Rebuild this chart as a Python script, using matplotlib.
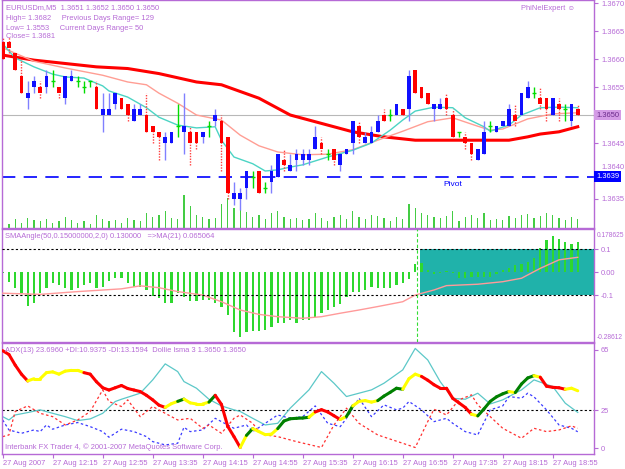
import matplotlib
matplotlib.use("Agg")
import matplotlib.pyplot as plt
import numpy as np
from matplotlib.collections import LineCollection
from matplotlib.transforms import blended_transform_factory

plt.rcParams['font.family'] = ['Liberation Sans', 'DejaVu Sans']

# ---- price data (EURUSDm, M5), bars 0..92 ----
opens = [1.3663, 1.3663, 1.3661, 1.3657, 1.3653, 1.3655, 1.3655, 1.3655, 1.3656, 1.3655,
         1.3653, 1.3656, 1.3656, 1.3655, 1.3656, 1.3655, 1.3650, 1.3650, 1.3652, 1.3653,
         1.3652, 1.3649, 1.3650, 1.3650, 1.3648, 1.3647, 1.3645, 1.3645, 1.3648, 1.3647,
         1.3647, 1.3647, 1.3646, 1.3648, 1.3649, 1.3649, 1.3646, 1.3635, 1.3635, 1.3637,
         1.3639, 1.3640, 1.3637, 1.3638, 1.3639, 1.3642, 1.3640, 1.3642, 1.3642, 1.3642,
         1.3644, 1.3645, 1.3643, 1.3644, 1.3641, 1.3643, 1.3645, 1.3648, 1.3645, 1.3645,
         1.3647, 1.3650, 1.3650, 1.3650, 1.3651, 1.3651, 1.3658, 1.3655, 1.3654, 1.3651,
         1.3651, 1.3653, 1.3650, 1.3647, 1.3646, 1.3645, 1.3642, 1.3643, 1.3648, 1.3647,
         1.3648, 1.3648, 1.3650, 1.3650, 1.3653, 1.3654, 1.3653, 1.3653, 1.3650, 1.3652,
         1.3651, 1.3649, 1.3651]
highs = [1.3664, 1.3664, 1.3661, 1.3660, 1.3656, 1.3657, 1.3656, 1.3658, 1.3658, 1.3655,
         1.3657, 1.3658, 1.3657, 1.3656, 1.3656, 1.3656, 1.3654, 1.3654, 1.3654, 1.3653,
         1.3652, 1.3652, 1.3652, 1.3654, 1.3648, 1.3647, 1.3647, 1.3647, 1.3652, 1.3654,
         1.3648, 1.3647, 1.3647, 1.3649, 1.3651, 1.3650, 1.3646, 1.3638, 1.3637, 1.3640,
         1.3640, 1.3640, 1.3638, 1.3641, 1.3643, 1.3644, 1.3643, 1.3644, 1.3644, 1.3644,
         1.3648, 1.3646, 1.3644, 1.3644, 1.3643, 1.3644, 1.3649, 1.3649, 1.3647, 1.3648,
         1.3650, 1.3651, 1.3651, 1.3652, 1.3651, 1.3658, 1.3658, 1.3655, 1.3654, 1.3652,
         1.3653, 1.3654, 1.3651, 1.3647, 1.3647, 1.3645, 1.3644, 1.3649, 1.3649, 1.3648,
         1.3649, 1.3652, 1.3652, 1.3654, 1.3656, 1.3655, 1.3655, 1.3653, 1.3653, 1.3653,
         1.3652, 1.3652, 1.3652]
lows = [1.3660, 1.3661, 1.3658, 1.3654, 1.3651, 1.3654, 1.3653, 1.3654, 1.3655, 1.3653,
        1.3652, 1.3656, 1.3655, 1.3654, 1.3655, 1.3651, 1.3647, 1.3650, 1.3651, 1.3651,
        1.3649, 1.3649, 1.3650, 1.3647, 1.3645, 1.3642, 1.3642, 1.3645, 1.3646, 1.3643,
        1.3641, 1.3644, 1.3645, 1.3646, 1.3648, 1.3640, 1.3635, 1.3634, 1.3633, 1.3635,
        1.3637, 1.3636, 1.3636, 1.3636, 1.3639, 1.3640, 1.3640, 1.3640, 1.3641, 1.3641,
        1.3644, 1.3643, 1.3642, 1.3641, 1.3640, 1.3643, 1.3643, 1.3645, 1.3645, 1.3645,
        1.3647, 1.3649, 1.3649, 1.3650, 1.3650, 1.3649, 1.3654, 1.3653, 1.3652, 1.3649,
        1.3651, 1.3650, 1.3646, 1.3646, 1.3644, 1.3642, 1.3642, 1.3643, 1.3647, 1.3647,
        1.3648, 1.3648, 1.3648, 1.3650, 1.3653, 1.3653, 1.3651, 1.3649, 1.3650, 1.3649,
        1.3649, 1.3648, 1.3650]
closes = [1.3660, 1.3662, 1.3658, 1.3654, 1.3654, 1.3656, 1.3654, 1.3657, 1.3656, 1.3654,
          1.3657, 1.3657, 1.3656, 1.3655, 1.3656, 1.3651, 1.3651, 1.3651, 1.3654, 1.3651,
          1.3650, 1.3651, 1.3651, 1.3647, 1.3647, 1.3646, 1.3646, 1.3647, 1.3648, 1.3648,
          1.3645, 1.3645, 1.3647, 1.3648, 1.3650, 1.3645, 1.3636, 1.3636, 1.3636, 1.3640,
          1.3639, 1.3636, 1.3637, 1.3640, 1.3643, 1.3641, 1.3641, 1.3643, 1.3643, 1.3643,
          1.3646, 1.3644, 1.3643, 1.3642, 1.3643, 1.3644, 1.3649, 1.3646, 1.3646, 1.3647,
          1.3649, 1.3649, 1.3650, 1.3652, 1.3650, 1.3657, 1.3654, 1.3653, 1.3652, 1.3652,
          1.3652, 1.3651, 1.3646, 1.3647, 1.3645, 1.3643, 1.3644, 1.3647, 1.3648, 1.3648,
          1.3649, 1.3651, 1.3649, 1.3654, 1.3655, 1.3654, 1.3652, 1.3651, 1.3653, 1.3651,
          1.3651, 1.3652, 1.3650]
volumes = [6, 4, 8, 5, 9, 7, 6, 8, 5, 6, 10, 7, 5, 6, 4, 12,
           8, 6, 7, 5, 9, 7, 6, 14, 10, 12, 16, 9, 8, 30, 20, 12,
           10, 8, 9, 22, 28, 18, 20, 15, 10, 12, 8, 14, 16, 10, 8, 9,
           7, 8, 14, 9, 6, 10, 12, 8, 16, 10, 8, 12, 11, 9, 6, 10,
           8, 22, 18, 14, 12, 10, 9, 11, 16, 6, 10, 12, 9, 14, 7, 8,
           7, 11, 9, 12, 13, 9, 11, 14, 12, 9, 7, 10, 8]

# moving averages on the price chart (read at sample bars)
slow_idx = [0, 5, 15, 20, 25, 31, 35, 41, 46, 50, 56, 61, 66, 76, 81, 84, 86, 89, 92]
slow_ma = [1.36607, 1.36598, 1.36586, 1.36583, 1.36574, 1.36559, 1.36554, 1.36530, 1.36500,
           1.36488, 1.36470, 1.36461, 1.36455, 1.36455, 1.36455, 1.36461, 1.36466, 1.36470, 1.36479]
mid_idx = [0, 5, 10, 16, 20, 23, 25, 28, 31, 35, 38, 41, 44, 48, 52, 56, 60, 64, 68, 72,
           76, 78, 80, 84, 88, 92]
mid_ma = [1.36620, 1.36596, 1.36584, 1.36571, 1.36559, 1.36554, 1.36539, 1.36521, 1.36500,
          1.36491, 1.36464, 1.36445, 1.36434, 1.36429, 1.36430, 1.36438, 1.36455, 1.36471,
          1.36488, 1.36495, 1.36480, 1.36473, 1.36475, 1.36493, 1.36502, 1.36504]
fast_idx = [0, 2, 5, 8, 10, 13, 16, 17, 20, 23, 25, 28, 31, 34, 35, 37, 40, 42, 44, 46, 48,
            52, 56, 59, 62, 64, 66, 69, 72, 74, 77, 78, 81, 83, 86, 89, 92]
fast_ma = [1.36627, 1.36602, 1.36586, 1.36573, 1.36568, 1.36566, 1.36552, 1.36543, 1.36532,
           1.36513, 1.36496, 1.36482, 1.36477, 1.36479, 1.36455, 1.36425, 1.36413, 1.36400,
           1.36402, 1.36407, 1.36411, 1.36425, 1.36437, 1.36450, 1.36473, 1.36491, 1.36507,
           1.36514, 1.36513, 1.36495, 1.36479, 1.36471, 1.36482, 1.36500, 1.36513, 1.36514, 1.36513]
pivot = 1.3639
price_ticks = [1.3635, 1.3640, 1.3645, 1.3655, 1.3660, 1.3665, 1.3670]

# ---- SMAAngle sub-window ----
angle = [-0.005, -0.043, -0.07, -0.091, -0.146, -0.135, -0.091, -0.067, -0.048, -0.055,
         -0.07, -0.077, -0.07, -0.055, -0.048, -0.07, -0.062, -0.04, -0.026, -0.023,
         -0.048, -0.062, -0.062, -0.077, -0.103, -0.113, -0.135, -0.132, -0.091, -0.106,
         -0.125, -0.125, -0.12, -0.12, -0.135, -0.149, -0.186, -0.261, -0.28, -0.261,
         -0.255, -0.255, -0.251, -0.236, -0.222, -0.222, -0.207, -0.222, -0.207, -0.207,
         -0.193, -0.178, -0.164, -0.149, -0.139, -0.106, -0.084, -0.084, -0.077, -0.062,
         -0.07, -0.07, -0.07, -0.055, -0.048, -0.029, 0.035, 0.039, 0.01, -0.007,
         -0.002, 0.006, -0.004, -0.026, -0.026, -0.019, -0.019, -0.019, -0.019, -0.009,
         0.01, 0.02, 0.032, 0.035, 0.046, 0.061, 0.107, 0.141, 0.159, 0.145,
         0.133, 0.123, 0.13]
ma21_idx = [0, 6, 12, 19, 22, 25, 28, 32, 35, 38, 41, 44, 48, 51, 54, 57, 60, 64, 66, 69,
            71, 76, 80, 83, 86, 89, 92]
ma21 = [-0.091, -0.096, -0.084, -0.072, -0.059, -0.067, -0.084, -0.099, -0.128, -0.164,
        -0.183, -0.193, -0.2, -0.193, -0.178, -0.164, -0.149, -0.128, -0.099, -0.077,
        -0.058, -0.052, -0.041, -0.026, 0.017, 0.054, 0.065]
angle_levels = [0.1, -0.1]
box_start = 66.8
sep_bar = 66.3

# ---- ADX sub-window ----
dollie = [64.5, 62, 55, 49, 44.5, 46, 46, 50, 50.5, 49, 51, 51.5, 51.5, 50, 49, 44, 40, 38.5,
          40, 41.5, 39.5, 38.5, 37.5, 35, 32, 28.5, 27, 29.5, 31, 32.5, 30, 29.3, 29.3, 30.5,
          35, 29, 14.5, 7.7, 0.5, 8.5, 13, 11, 9, 9.3, 13, 18, 19.5, 19.8, 20, 20.5, 24, 25.5,
          24, 21.5, 19, 21, 28, 31, 31.5, 30.5, 31.5, 34.5, 37, 39.7, 39, 46, 49, 47.5, 45, 42,
          39.7, 39.7, 33, 30, 27, 22.5, 21.4, 26, 31, 34, 36, 37.5, 36.8, 42.5, 46.5, 48, 47,
          41, 40.3, 40, 39, 39.7, 38]
dollie_col = ("-rrrr" + "y" * 9 + "r" * 13 + "yy" + "g" + "yyyy" + "g" + "rrrr" + "y" + "g"
              + "yyyy" + "ggggg" + "y" + "rrrr" + "y" + "g" + "yyyy" + "gggg" + "yyy"
              + "r" * 8 + "y" + "ggggg" + "y" + "ggg" + "y" + "rrrr" + "yy")
adx_idx = [0, 1, 2, 4, 6, 8, 10, 12, 14, 16, 18, 19, 22, 24, 26, 28, 29, 31, 33, 35, 37, 38,
           40, 42, 44, 46, 49, 51, 53, 55, 57, 59, 61, 64, 66, 68, 70, 72, 74, 76, 78, 80, 83,
           85, 88, 90, 92]
adx = [20.9, 18.7, 22, 23.6, 25.4, 23.1, 20.9, 18.3, 19.4, 23.1, 30.9, 32.4, 36.4, 45.2, 55.8,
       50.7, 44.1, 39.7, 32.4, 28, 25.4, 24.3, 19.8, 15.4, 16.5, 26.5, 38.6, 50.7, 43, 34.2,
       36.4, 38.6, 43, 51.8, 66, 58.4, 44, 33, 32.4, 36.4, 29.3, 32, 38.6, 45.2, 40.8, 29.8, 23.7]
pdi_idx = [0, 1, 3, 5, 6, 7, 8, 10, 12, 14, 16, 17, 19, 21, 23, 24, 26, 28, 29, 30, 32, 34,
           35, 37, 39, 40, 42, 44, 46, 48, 50, 52, 54, 55, 57, 59, 61, 63, 64, 65, 67, 69, 71,
           72, 74, 76, 78, 80, 81, 83, 84, 85, 87, 89, 91, 92]
pdi = [18.7, 12.1, 9.9, 12.1, 11, 15.4, 12.6, 15.4, 17, 14.3, 11, 7.3, 12.6, 11, 7.7, 4.4, 2.2,
       3.3, 13.9, 11, 12.1, 19.8, 17.6, 13.2, 15.4, 11, 16.5, 22, 19.8, 20.9, 28, 16.5, 14.3,
       19.8, 33.1, 20.9, 28.7, 25.4, 26.5, 30.9, 25.4, 17.6, 19.8, 16.5, 11, 8.8, 25.4, 28,
       34.2, 33.1, 36.4, 34, 25.4, 15.4, 13.2, 10.9]
mdi_idx = [0, 1, 2, 4, 6, 8, 10, 12, 14, 16, 17, 19, 20, 22, 24, 26, 28, 30, 32, 33, 35, 37,
           38, 40, 41, 42, 44, 47, 51, 53, 55, 57, 60, 64, 66, 68, 69, 71, 73, 75, 76, 78, 80,
           83, 85, 87, 89, 91, 92]
mdi = [7.7, 8.8, 24.3, 28, 23.1, 20.9, 15.4, 18.7, 24.3, 38.6, 30.9, 27.6, 32, 20.9, 27.6,
       23.1, 18.7, 19.8, 13.2, 15.4, 9.9, 19.8, 22, 16.5, 11, 8.8, 7.7, 4.4, 0.5, 15.4, 26.5,
       16.5, 8.8, 3.3, 0.5, 17.6, 25.8, 22, 32, 35.3, 28.7, 20.9, 13.2, 6.6, 13.2, 11, 12.1,
       14.8, 13.2]

time_labels = ["27 Aug 2007", "27 Aug 12:15", "27 Aug 12:55", "27 Aug 13:35", "27 Aug 14:15",
               "27 Aug 14:55", "27 Aug 15:35", "27 Aug 16:15", "27 Aug 16:55", "27 Aug 17:35",
               "27 Aug 18:15", "27 Aug 18:55"]

W, H = 625, 469
VIOLET = '#b66ad6'
TXT = 5.4

fig = plt.figure(figsize=(W / 100, H / 100), dpi=100)
fig.patch.set_facecolor('white')


def panel(top, bottom, left=2, right=594):
    return fig.add_axes([left / W, 1 - bottom / H, (right - left) / W, (bottom - top) / H])


def ftext(x, y, s, **kw):
    kw.setdefault('color', VIOLET)
    kw.setdefault('fontsize', TXT)
    fig.text(x / W, 1 - y / H, s, va='center', ha='left', **kw)


ax = panel(0, 228)
ax1 = panel(229, 342)
ax2 = panel(343, 454)
xlim = (-0.11, 94.6)
bars = np.arange(len(opens))

# volume shares the price window, drawn underneath
axv = ax.twinx()
axv.bar(bars, volumes, width=0.22, color='#44cc44', zorder=1)
axv.set_ylim(0, max(volumes) * 7.0)
axv.set_xlim(*xlim)
axv.axis('off')
ax.set_zorder(axv.get_zorder() + 1)
ax.patch.set_visible(False)

for a in (ax, ax1, ax2):
    a.set_xlim(*xlim)
    for s in a.spines.values():
        s.set_color(VIOLET)
        s.set_linewidth(1)
    a.yaxis.tick_right()
    a.tick_params(axis='y', colors=VIOLET, labelsize=TXT, length=3, width=0.8, pad=2)
    a.tick_params(axis='x', bottom=False, labelbottom=False)

# ---- main price chart ----
o, hi, lo, c = (np.array(v) for v in (opens, highs, lows, closes))
up, dn, dj = c > o, c < o, c == o

ax.set_ylim(1.362982, 1.367054)
ax.axhline(closes[-1], color='#b8b8b8', lw=0.8, zorder=1)
ax.axhline(pivot, color='#0000ff', lw=1.2, ls=(0, (8, 5)), zorder=1)
ax.plot(slow_idx, slow_ma, color='#ff0000', lw=2.2, zorder=2)
ax.plot(mid_idx, mid_ma, color='#ff9e94', lw=1, zorder=2)
ax.plot(fast_idx, fast_ma, color='#4cd4c4', lw=1, zorder=2)

ax.vlines(bars[up], lo[up], hi[up], color='#8080ff', lw=1, zorder=3)
ax.vlines(bars[dn], lo[dn], hi[dn], color='#ff4040', lw=1, linestyles=(0, (1, 1)), zorder=3)
ax.vlines(bars[dj], lo[dj], hi[dj], color='#00dd00', lw=1, zorder=3)
ax.bar(bars[up], c[up] - o[up], bottom=o[up], width=0.62, color='#1010ff', zorder=4)
ax.bar(bars[dn], o[dn] - c[dn], bottom=c[dn], width=0.62, color='#ff0000', zorder=4)
ax.hlines(c[dj], bars[dj] - 0.32, bars[dj] + 0.32, color='#00dd00', lw=1, zorder=4)

ax.text(72, pivot - 0.00015, 'Pivot', color='#0000ff', fontsize=TXT + 0.6, ha='center', va='center')
ax.set_yticks(price_ticks)
ax.set_yticklabels([f'{v:.4f}' for v in price_ticks])
# the 1.3640 label sits just above the pivot box
ax.get_yticklabels()[1].set_va('bottom')
tr = blended_transform_factory(ax.transAxes, ax.transData)
ax.text(1.004, closes[-1], f'{closes[-1]:.4f}', transform=tr, fontsize=TXT, color='#6a2a8a',
        va='center', ha='left', zorder=10,
        bbox=dict(boxstyle='square,pad=0.25', fc='#d49be6', ec='none'))
ax.text(1.004, pivot, f'{pivot:.4f}', transform=tr, fontsize=TXT, color='white',
        va='center', ha='left', zorder=10,
        bbox=dict(boxstyle='square,pad=0.25', fc='#0000ff', ec='none'))

ftext(6, 8, 'EURUSDm,M5  1.3651 1.3652 1.3650 1.3650')
ftext(6, 18, 'High= 1.3682     Previous Days Range= 129')
ftext(6, 28, 'Low= 1.3553     Current Days Range= 50')
ftext(6, 37, 'Close= 1.3681')
ftext(521, 9, 'PhiNelExpert \u263a')

# ---- SMAAngle sub-window ----
ax1.set_ylim(-0.303, 0.188)
ax1.fill_between([box_start, xlim[1]], angle_levels[1], angle_levels[0],
                 color='#20b2aa', lw=0, zorder=1)
ax1.bar(bars, angle, width=0.38, color='#2ed82e', zorder=2)
ax1.plot(ma21_idx, ma21, color='#ff9a9a', lw=1, zorder=3)
for lev in angle_levels:
    ax1.axhline(lev, color='black', ls=(0, (2, 2)), lw=0.8, zorder=3)
ax1.axvline(sep_bar, color='#33dd33', ls=(0, (3, 2)), lw=0.8, zorder=3)
ax1.set_yticks([0.1, 0.0, -0.1])
ax1.set_yticklabels(['0.1', '0.00', '-0.1'])
ax1.text(1.005, 0.94, '0.178625', transform=ax1.transAxes, fontsize=4.8, color=VIOLET, va='center')
ax1.text(1.005, 0.04, '-0.28612', transform=ax1.transAxes, fontsize=4.8, color=VIOLET, va='center')
ftext(5, 237, 'SMAAngle(50,0.15000000,2,0) 0.130000   =>MA(21) 0.065064')

# ---- ADX sub-window ----
ax2.set_ylim(-3.8, 69.6)
ax2.axhline(25, color='black', ls=(0, (2, 2)), lw=0.8, zorder=1)
ax2.plot(adx_idx, adx, color='#5cc8c8', lw=0.9, zorder=2)
ax2.plot(pdi_idx, pdi, color='#3a3aff', lw=0.9, ls=(0, (2, 2)), zorder=2)
ax2.plot(mdi_idx, mdi, color='#ff3030', lw=0.9, ls=(0, (2, 2)), zorder=2)
pts = np.column_stack([bars, dollie])
segs = np.stack([pts[:-1], pts[1:]], axis=1)
palette = {'r': '#ff0000', 'y': '#ffff00', 'g': '#008000'}
ax2.add_collection(LineCollection(segs, colors=[palette[k] for k in dollie_col[1:]],
                                  linewidths=2.2, capstyle='round', zorder=4))
ax2.set_yticks([65, 25, 0])
ax2.set_yticklabels(['65', '25', '0'])
ax2.set_xticks(bars[::8])
ax2.set_xticklabels(time_labels)
ax2.tick_params(axis='x', bottom=True, labelbottom=True, colors=VIOLET, labelsize=TXT,
                length=3, width=0.8, pad=1)
plt.setp(ax2.get_xticklabels(), ha='left')
ftext(5, 350, 'ADX(13) 23.6960 +DI:10.9375 -DI:13.1594  Dollie lsma 3 1.3650 1.3650')
ftext(5, 447, 'Interbank FX Trader 4, \u00a9 2001-2007 MetaQuotes Software Corp.')

fig.savefig('out.png', dpi=100, facecolor='white')
